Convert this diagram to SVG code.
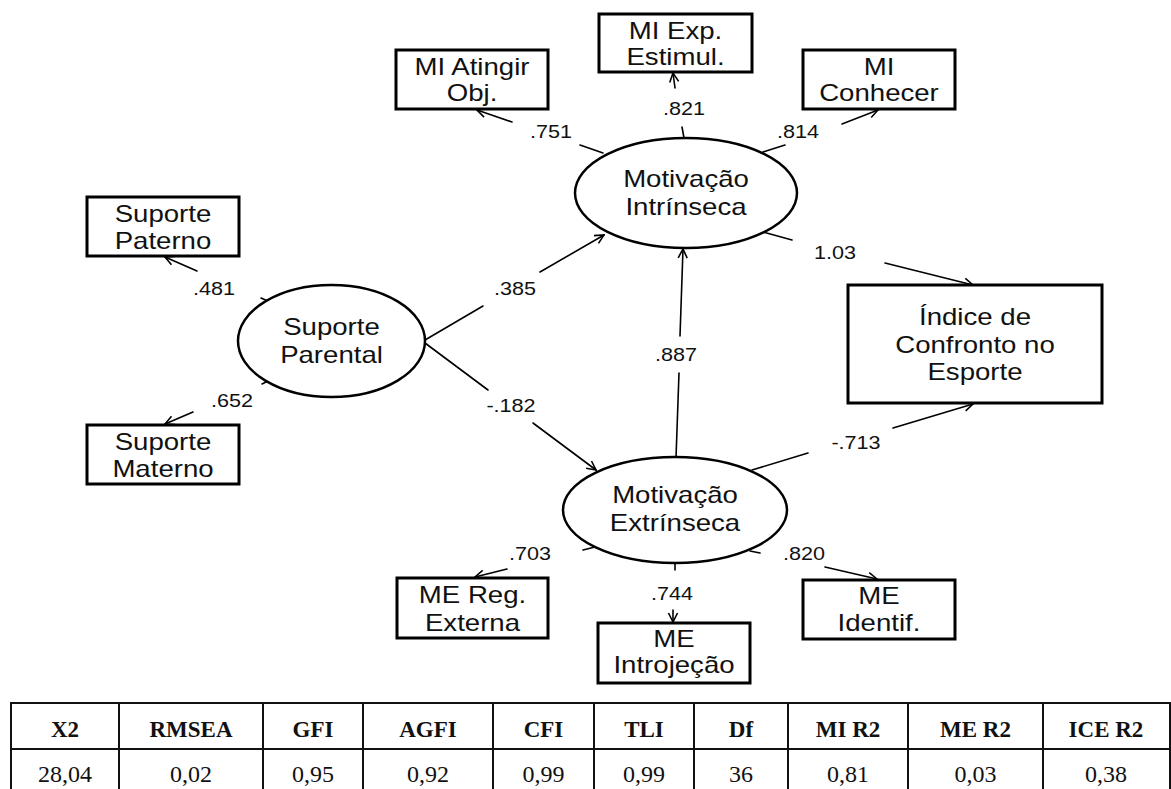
<svg xmlns="http://www.w3.org/2000/svg" width="1171" height="789" viewBox="0 0 1171 789">
<style>
.box{fill:#fff;stroke:#000;stroke-width:3}
.ell{fill:#fff;stroke:#000;stroke-width:2.5}
.ln{stroke:#000;stroke-width:1.6;fill:none;stroke-linecap:round}
.arr{marker-end:url(#ah)}
.t{font-family:"Liberation Sans",Arial,sans-serif;font-size:23px;text-anchor:middle;fill:#111}
.n{font-size:18px}
.tb{font-family:"Liberation Serif","Times New Roman",serif;font-size:24px;text-anchor:middle;fill:#111}
.th{font-weight:bold;font-size:23px}
.grid{stroke:#111;stroke-width:2;fill:none}
</style>
<defs>
<marker id="ah" viewBox="0 0 12 12" refX="11" refY="6" markerWidth="12" markerHeight="12" markerUnits="userSpaceOnUse" orient="auto">
<path d="M2,1.5 L11,6 L2,10.5" fill="none" stroke="#000" stroke-width="1.6"/>
</marker>
</defs>
<rect width="1171" height="789" fill="#fff"/>

<g id="connectors">
<line class="ln" x1="603" y1="153" x2="580" y2="145"/><line class="ln arr" x1="512" y1="122" x2="477" y2="110"/>
<line class="ln" x1="684" y1="138" x2="682" y2="127"/><line class="ln arr" x1="675" y1="88" x2="673" y2="73"/>
<line class="ln" x1="763" y1="152" x2="785" y2="145"/><line class="ln arr" x1="842" y1="124" x2="878" y2="110"/>
<line class="ln" x1="763" y1="232" x2="792" y2="240"/><line class="ln arr" x1="885" y1="263" x2="973" y2="285"/>
<line class="ln" x1="752" y1="470" x2="808" y2="453"/><line class="ln arr" x1="893" y1="428" x2="973" y2="404"/>
<line class="ln" x1="676" y1="458" x2="679" y2="373"/><line class="ln arr" x1="680" y1="336" x2="683" y2="249"/>
<line class="ln" x1="425" y1="340" x2="483" y2="306"/><line class="ln arr" x1="540" y1="272" x2="604" y2="235"/>
<line class="ln" x1="425" y1="343" x2="488" y2="390"/><line class="ln arr" x1="533" y1="423" x2="596" y2="470"/>
<line class="ln" x1="268" y1="301" x2="261" y2="298"/><line class="ln arr" x1="197" y1="271" x2="165" y2="257"/>
<line class="ln" x1="268" y1="381" x2="262" y2="384"/><line class="ln arr" x1="193" y1="412" x2="165" y2="424"/>
<line class="ln" x1="595" y1="547" x2="583" y2="550"/><line class="ln arr" x1="507" y1="569" x2="475" y2="577"/>
<line class="ln" x1="675" y1="563" x2="675" y2="570"/><line class="ln arr" x1="673" y1="610" x2="673" y2="622"/>
<line class="ln" x1="750" y1="551" x2="760" y2="553"/><line class="ln arr" x1="825" y1="567" x2="877" y2="579"/>
<g class="t n">
<text transform="translate(551 138) scale(1.2 1)">.751</text>
<text transform="translate(684 115) scale(1.2 1)">.821</text>
<text transform="translate(798 138) scale(1.2 1)">.814</text>
<text transform="translate(835 259) scale(1.2 1)">1.03</text>
<text transform="translate(214 295) scale(1.2 1)">.481</text>
<text transform="translate(232 407) scale(1.2 1)">.652</text>
<text transform="translate(515 295) scale(1.2 1)">.385</text>
<text transform="translate(511 412) scale(1.2 1)">-.182</text>
<text transform="translate(676 361) scale(1.2 1)">.887</text>
<text transform="translate(856 449) scale(1.2 1)">-.713</text>
<text transform="translate(530 560) scale(1.2 1)">.703</text>
<text transform="translate(672 600) scale(1.2 1)">.744</text>
<text transform="translate(804 560) scale(1.2 1)">.820</text>
</g>
</g>

<g id="mi-atingir">
<rect class="box" x="396" y="50" width="152" height="59"/>
<text class="t" transform="translate(472 75) scale(1.2 1)">MI Atingir</text>
<text class="t" transform="translate(472 101) scale(1.2 1)">Obj.</text>
</g>
<g id="mi-exp">
<rect class="box" x="599" y="14" width="153" height="58"/>
<text class="t" transform="translate(675.5 38.5) scale(1.2 1)">MI Exp.</text>
<text class="t" transform="translate(675.5 65) scale(1.2 1)">Estimul.</text>
</g>
<g id="mi-conhecer">
<rect class="box" x="803" y="50" width="152" height="59"/>
<text class="t" transform="translate(879 74.5) scale(1.2 1)">MI</text>
<text class="t" transform="translate(879 101) scale(1.2 1)">Conhecer</text>
</g>
<g id="suporte-paterno">
<rect class="box" x="87" y="197" width="152" height="59"/>
<text class="t" transform="translate(163 221.5) scale(1.2 1)">Suporte</text>
<text class="t" transform="translate(163 249) scale(1.2 1)">Paterno</text>
</g>
<g id="suporte-materno">
<rect class="box" x="87" y="425" width="152" height="59"/>
<text class="t" transform="translate(163 449.5) scale(1.2 1)">Suporte</text>
<text class="t" transform="translate(163 477) scale(1.2 1)">Materno</text>
</g>
<g id="suporte-parental">
<ellipse class="ell" cx="331.5" cy="341" rx="93.5" ry="56"/>
<text class="t" transform="translate(331.5 335) scale(1.2 1)">Suporte</text>
<text class="t" transform="translate(331.5 363) scale(1.2 1)">Parental</text>
</g>
<g id="motivacao-intrinseca">
<ellipse class="ell" cx="686" cy="193" rx="111" ry="55"/>
<text class="t" transform="translate(686 187) scale(1.2 1)">Motivação</text>
<text class="t" transform="translate(686 215) scale(1.2 1)">Intrínseca</text>
</g>
<g id="motivacao-extrinseca">
<ellipse class="ell" cx="675" cy="510" rx="112" ry="53"/>
<text class="t" transform="translate(675 503) scale(1.2 1)">Motivação</text>
<text class="t" transform="translate(675 531) scale(1.2 1)">Extrínseca</text>
</g>
<g id="indice">
<rect class="box" x="848" y="285" width="254" height="118"/>
<text class="t" transform="translate(975 325) scale(1.2 1)">Índice de</text>
<text class="t" transform="translate(975 353) scale(1.2 1)">Confronto no</text>
<text class="t" transform="translate(975 380) scale(1.2 1)">Esporte</text>
</g>
<g id="me-reg">
<rect class="box" x="397" y="578" width="151" height="60"/>
<text class="t" transform="translate(472.5 603) scale(1.2 1)">ME Reg.</text>
<text class="t" transform="translate(472.5 631) scale(1.2 1)">Externa</text>
</g>
<g id="me-introjecao">
<rect class="box" x="598" y="623" width="152" height="60"/>
<text class="t" transform="translate(674 647) scale(1.2 1)">ME</text>
<text class="t" transform="translate(674 673) scale(1.2 1)">Introjeção</text>
</g>
<g id="me-identif">
<rect class="box" x="803" y="580" width="152" height="59"/>
<text class="t" transform="translate(879 604) scale(1.2 1)">ME</text>
<text class="t" transform="translate(879 631) scale(1.2 1)">Identif.</text>
</g>

<g id="fit-table">
<rect class="grid" x="11" y="703" width="1159" height="93"/>
<line class="grid" x1="11" y1="749" x2="1170" y2="749"/>
<path class="grid" d="M119,703V796M263,703V796M363,703V796M493,703V796M594,703V796M694,703V796M788,703V796M908,703V796M1043,703V796"/>
<g class="tb th">
<text x="65" y="737">X2</text>
<text x="191" y="737">RMSEA</text>
<text x="313" y="737">GFI</text>
<text x="428" y="737">AGFI</text>
<text x="543.5" y="737">CFI</text>
<text x="644" y="737">TLI</text>
<text x="741" y="737">Df</text>
<text x="848" y="737">MI R2</text>
<text x="975.5" y="737">ME R2</text>
<text x="1106" y="737">ICE R2</text>
</g>
<g class="tb">
<text x="65" y="782">28,04</text>
<text x="191" y="782">0,02</text>
<text x="313" y="782">0,95</text>
<text x="428" y="782">0,92</text>
<text x="543.5" y="782">0,99</text>
<text x="644" y="782">0,99</text>
<text x="741" y="782">36</text>
<text x="848" y="782">0,81</text>
<text x="975.5" y="782">0,03</text>
<text x="1106" y="782">0,38</text>
</g>
</g>
</svg>
